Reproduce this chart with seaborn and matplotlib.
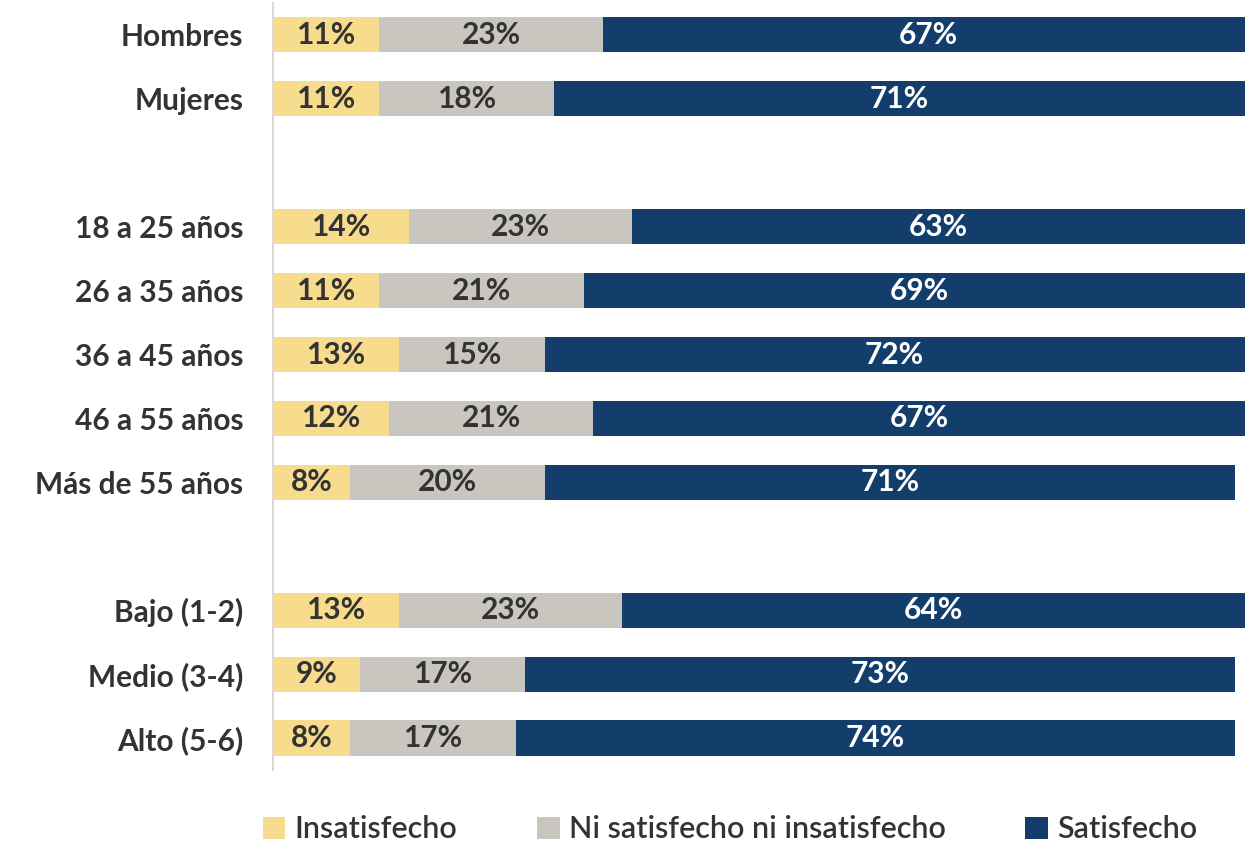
import numpy as np
import pandas as pd
import matplotlib
matplotlib.use("Agg")
import matplotlib.pyplot as plt
import seaborn as sns
from matplotlib.patches import Patch

# data
groups = ["Hombres", "Mujeres", " ",
          "18 a 25 años", "26 a 35 años", "36 a 45 años", "46 a 55 años", "Más de 55 años", "  ",
          "Bajo (1-2)", "Medio (3-4)", "Alto (5-6)"]
insatisfecho = [11, 11, np.nan, 14, 11, 13, 12, 8, np.nan, 13, 9, 8]
ni_ni = [23, 18, np.nan, 23, 21, 15, 21, 20, np.nan, 23, 17, 17]
satisfecho = [67, 71, np.nan, 63, 69, 72, 67, 71, np.nan, 64, 73, 74]
series_names = ["Insatisfecho", "Ni satisfecho ni insatisfecho", "Satisfecho"]
colors = ["#F6DC8C", "#C9C6BF", "#133D6B"]
text_colors = ["#333333", "#333333", "white"]

df = pd.DataFrame({"grupo": groups, "ins": insatisfecho, "ni": ni_ni, "sat": satisfecho})
df["c1"] = df["ins"]
df["c2"] = df["ins"] + df["ni"]
df["c3"] = df["ins"] + df["ni"] + df["sat"]
df_plot = df.dropna()

sns.set_style("white")
plt.rcParams["font.family"] = ["Lato", "DejaVu Sans"]

fig = plt.figure(figsize=(12.5, 8.42), dpi=100)
ax = fig.add_axes([0.218, 0.0855, 0.7776, 0.911])

# stacked bars: draw cumulative totals back to front
for col, color in zip(["c3", "c2", "c1"], colors[::-1]):
    sns.barplot(data=df_plot, x=col, y="grupo", order=groups, orient="h",
                color=color, width=0.55, saturation=1, ax=ax, edgecolor="none")

# value labels
for i, row in df.iterrows():
    if np.isnan(row["ins"]):
        continue
    starts = [0, row["c1"], row["c2"]]
    vals = [row["ins"], row["ni"], row["sat"]]
    for s, v, tc in zip(starts, vals, text_colors):
        ax.text(s + v / 2, i, f"{int(v)}%", ha="center", va="center",
                fontsize=21.5, fontweight="bold", color=tc)

ax.set_xlim(0, 100)
ax.set_ylim(len(groups) - 0.5, -0.5)
ax.set_xlabel("")
ax.set_ylabel("")
ax.set_xticks([])
ax.tick_params(axis="y", length=0, pad=21, labelsize=21.5, labelcolor="#333333")
for lab in ax.get_yticklabels():
    lab.set_fontweight("bold")
for side in ["top", "right", "bottom"]:
    ax.spines[side].set_visible(False)
ax.spines["left"].set_color("#D9D9D9")
ax.spines["left"].set_linewidth(1.5)

handles = [Patch(facecolor=c, edgecolor="none") for c in colors]
fig.legend(handles, series_names, loc="center", bbox_to_anchor=(0.584, 0.015),
           ncol=3, frameon=False, handlelength=0.75, handleheight=0.75,
           handletextpad=0.3, columnspacing=2.6,
           prop={"family": ["Lato", "DejaVu Sans"], "size": 22, "weight": "semibold"},
           labelcolor="#333333")

fig.savefig("out.png", dpi=100)
